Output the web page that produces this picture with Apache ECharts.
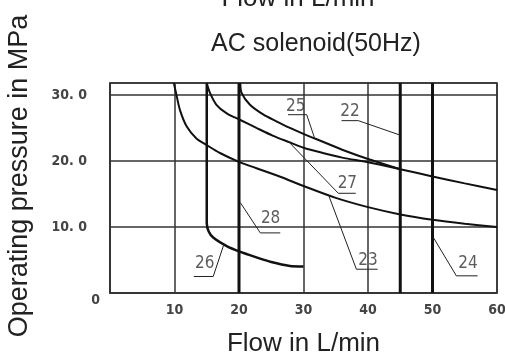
<!DOCTYPE html>
<html>
<head>
<meta charset="utf-8">
<script src="https://cdn.jsdelivr.net/npm/echarts@6/dist/echarts.min.js"></script>
<style>
  html, body { margin: 0; padding: 0; background: #fff; }
  #chart { width: 505px; height: 356px; }
</style>
</head>
<body>
<div id="chart"></div>
<script>
// 曲线数据 (flow L/min, pressure MPa)
const curve23 = [[9.9, 31.8], [10.3, 30], [10.85, 27.7], [11.9, 25.2], [13.4, 23.4], [15, 22.4], [17.05, 21.2], [19.9, 19.9], [22.7, 18.9], [26.4, 17.6], [30, 16.2], [35, 14.4], [40, 13.0], [45, 11.9], [50, 11.1], [55, 10.5], [60, 10.0]]
const curve27 = [[15, 31.8], [15.5, 30.3], [16.5, 28.5], [18.1, 27.2], [20.2, 26.2], [22.7, 25.0], [25.3, 23.8], [27.9, 22.8], [30, 22.0], [33, 21.2], [36, 20.5], [40, 19.8], [45, 18.75], [50, 17.65], [55, 16.6], [60, 15.6]]
const curve25 = [[20.2, 31.8], [20.4, 30.3], [21.7, 28.5], [23.8, 27.0], [25.8, 26.0], [27.9, 25.0], [30, 24.1], [33, 22.9], [36, 21.7], [40, 20.3], [45, 18.75]]
const curve26 = [[15, 31.8], [15, 10.6], [15.3, 9.3], [16, 8.4], [18.1, 7.1], [20, 6.3], [22.7, 5.4], [25, 4.7], [27.9, 4.1], [30, 4.0]]
const verticalLines = [20, 45, 50]
const yTop = 31.8

// 标注
const annotNames = ['25', '22', '27', '23', '24', '28', '26']
const annotTextPos = [[28.8, 28.2], [37.2, 27.5], [36.8, 16.6], [40.0, 4.9], [55.5, 4.5], [24.9, 11.3], [14.7, 4.4]]
const annotLeaders = [
  [[31.7, 23.5], [30.5, 27.0], [27.6, 27.0]],
  [[45, 23.9], [38.5, 26.1], [35.9, 26.1]],
  [[27.6, 23.0], [35.4, 15.1], [38.1, 15.1]],
  [[33.9, 14.8], [38.2, 3.6], [41.5, 3.6]],
  [[50.2, 8.3], [53.7, 2.6], [57.0, 2.6]],
  [[20.2, 13.7], [23.3, 9.1], [26.4, 9.1]],
  [[17.6, 7.2], [16.0, 2.5], [13.0, 2.5]]
]

// 刻度标签
const xTickLabels = ['', '10', '20', '30', '40', '50', '60']
const yTickLabels = ['0', '10. 0', '20. 0', '30. 0']

const tickFont = "'Liberation Sans Narrow', 'DejaVu Sans Condensed', 'Roboto Condensed', 'Liberation Sans', sans-serif"
const series = []

function curve(data, width) {
  return {
    type: 'line',
    data: data,
    smooth: 0.3,
    symbol: 'none',
    silent: true,
    lineStyle: { color: '#111', width: width }
  }
}

series.push(curve(curve23, 2))
series.push(curve(curve27, 2))
series.push(curve(curve25, 2))
series.push(Object.assign(curve(curve26, 2.5), { smooth: 0.2 }))
verticalLines.forEach(v => {
  series.push(Object.assign(curve([[v, 0], [v, yTop]], 3), { smooth: false }))
})
annotLeaders.forEach(path => {
  series.push({
    type: 'line',
    data: path,
    symbol: 'none',
    silent: true,
    lineStyle: { color: '#222', width: 1 }
  })
})
series.push({
  type: 'scatter',
  symbolSize: 0,
  silent: true,
  data: annotNames.map((n, i) => ({ name: n, value: annotTextPos[i] })),
  label: {
    show: true,
    position: 'inside',
    formatter: p => p.name,
    fontFamily: tickFont,
    fontSize: 17,
    color: '#333'
  }
})

const option = {
  animation: false,
  backgroundColor: '#fff',
  title: [
    {
      text: 'Flow in L/min',
      left: 298,
      top: -14,
      padding: 0,
      textAlign: 'center',
      textStyle: { fontFamily: 'Liberation Sans', fontSize: 26, fontWeight: 'normal', color: '#222' }
    },
    {
      text: 'AC solenoid(50Hz)',
      left: 316,
      top: 32,
      padding: 0,
      textAlign: 'center',
      textStyle: { fontFamily: 'Liberation Sans', fontSize: 25, fontWeight: 'normal', color: '#222' }
    }
  ],
  grid: {
    left: 110,
    right: 8,
    top: 83,
    bottom: 63,
    outerBoundsMode: 'none',
    show: true,
    borderColor: '#333',
    borderWidth: 1.5
  },
  xAxis: {
    type: 'value',
    min: 0,
    max: 60,
    interval: 10,
    name: 'Flow in L/min',
    nameLocation: 'middle',
    nameGap: 38,
    nameTextStyle: { fontFamily: 'Liberation Sans', fontSize: 26, color: '#222' },
    axisLine: { show: true, lineStyle: { color: '#333', width: 1.5 } },
    axisTick: { show: false },
    splitLine: { show: true, lineStyle: { color: '#333', width: 1.5 } },
    axisLabel: {
      margin: 10,
      fontFamily: tickFont,
      fontWeight: 'bold',
      fontSize: 14,
      color: '#444',
      formatter: v => xTickLabels[v / 10] || ''
    }
  },
  yAxis: {
    type: 'value',
    min: 0,
    max: yTop,
    interval: 10,
    name: 'Operating pressure in MPa',
    nameLocation: 'middle',
    nameGap: 77,
    nameTextStyle: { fontFamily: 'Liberation Sans', fontSize: 27, color: '#222', padding: [0, 0, 0, 24] },
    axisLine: { show: true, lineStyle: { color: '#333', width: 1.5 } },
    axisTick: { show: false },
    splitLine: { show: true, lineStyle: { color: '#333', width: 1.5 } },
    axisLabel: {
      margin: 10,
      fontFamily: tickFont,
      fontWeight: 'bold',
      fontSize: 14,
      color: '#444',
      formatter: function (v) {
        if (v % 10 !== 0) return ''
        const t = yTickLabels[v / 10]
        return v === 0 ? '{z|' + t + '}' : '{n|' + t + '}'
      },
      rich: {
        n: { fontFamily: tickFont, fontWeight: 'bold', fontSize: 14, color: '#444', padding: [0, 13, 0, 0] },
        z: { fontFamily: tickFont, fontWeight: 'bold', fontSize: 14, color: '#444', padding: [14, 0, 0, 0] }
      }
    }
  },
  series: series
}

const myChart = echarts.init(document.getElementById('chart'))
myChart.setOption(option)
</script>
</body>
</html>
